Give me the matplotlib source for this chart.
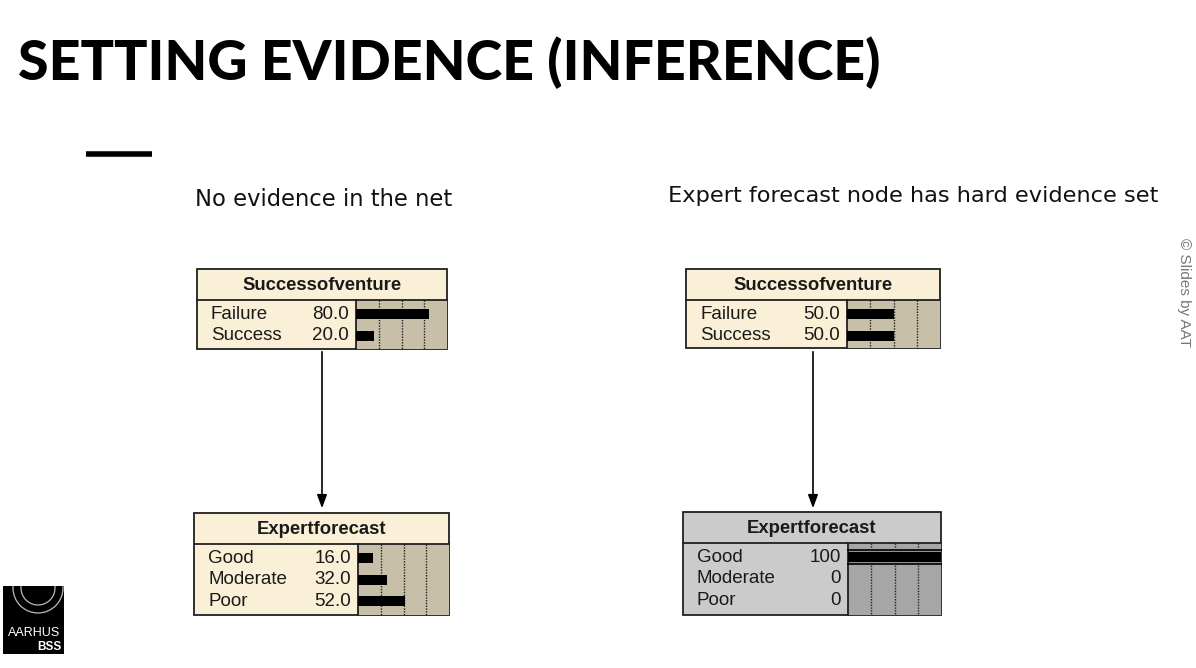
import matplotlib
matplotlib.use("Agg")
import matplotlib.pyplot as plt
from matplotlib.patches import Rectangle, Circle

# ---- data ----
title = "SETTING EVIDENCE (INFERENCE)"
subtitle_left = "No evidence in the net"
subtitle_right = "Expert forecast node has hard evidence set"
node_parent = "Successofventure"
node_child = "Expertforecast"
parent_states = ["Failure", "Success"]
child_states = ["Good", "Moderate", "Poor"]
left_parent_vals = [80.0, 20.0]
left_child_vals = [16.0, 32.0, 52.0]
right_parent_vals = [50.0, 50.0]
right_child_vals = [100, 0, 0]
right_child_labels = ["100", "0", "0"]

W, H = 1196, 668
fig = plt.figure(figsize=(W / 100, H / 100), dpi=100)
ax = fig.add_axes([0, 0, 1, 1])
ax.set_xlim(0, W)
ax.set_ylim(H, 0)
ax.axis("off")

FONT = ["Liberation Sans", "DejaVu Sans"]


def draw_node(x0, x1, y0, ytitle, y1, xbar, name, states, vals, labels=None,
              bg="#FAF0D7", barbg="#C8BFA9", evidence=False):
    ax.add_patch(Rectangle((x0, y0), x1 - x0, y1 - y0, facecolor=bg,
                           edgecolor="#202020", lw=1.3, zorder=2))
    ax.add_patch(Rectangle((xbar, ytitle), x1 - xbar, y1 - ytitle,
                           facecolor=barbg, edgecolor="none", zorder=3))
    ax.plot([x0, x1], [ytitle, ytitle], color="#202020", lw=1.3, zorder=5)
    ax.plot([xbar, xbar], [ytitle, y1], color="#202020", lw=1.3, zorder=5)
    ax.text((x0 + x1) / 2, (y0 + ytitle) / 2 + 1, name, ha="center", va="center",
            fontsize=13.3, fontweight="bold", family=FONT, color="#1a1a1a", zorder=6)
    bw = x1 - xbar
    for g in (0.25, 0.5, 0.75):
        ax.plot([xbar + g * bw] * 2, [ytitle, y1], color="#202020", lw=1.0,
                ls=(0, (1, 1)), zorder=4)
    row_h = 21.5
    ystart = ytitle + 3.5
    for i, (s, v) in enumerate(zip(states, vals)):
        yc = ystart + row_h * (i + 0.5)
        ax.text(x0 + 14, yc, s, ha="left", va="center", fontsize=13.5,
                family=FONT, color="#1a1a1a", zorder=6)
        lab = labels[i] if labels else f"{v:.1f}"
        ax.text(xbar - 7, yc, lab, ha="right", va="center", fontsize=13.5,
                family=FONT, color="#1a1a1a", zorder=6)
        if evidence and v >= 100:
            ax.add_patch(Rectangle((xbar, yc - 8), bw, 16, facecolor="#909090",
                                   edgecolor="none", zorder=4))
            ax.plot([xbar, x1], [yc - 7, yc - 7], color="black", lw=1.2, zorder=5)
            ax.plot([xbar, x1], [yc + 7, yc + 7], color="black", lw=1.2, zorder=5)
        ax.barh(yc, v / 100 * bw, height=10, left=xbar, color="black", zorder=5)


draw_node(197, 447, 269, 300, 349, 356, node_parent, parent_states, left_parent_vals)
draw_node(194, 449, 513, 544, 615, 358, node_child, child_states, left_child_vals)
draw_node(686, 940, 269, 300, 348, 847, node_parent, parent_states, right_parent_vals)
draw_node(683, 941, 512, 543, 615, 848, node_child, child_states, right_child_vals,
          labels=right_child_labels, bg="#CBCBCB", barbg="#A6A6A6", evidence=True)

# arrows
for xa in (322, 813):
    ax.annotate("", xy=(xa, 511), xytext=(xa, 349),
                arrowprops=dict(arrowstyle="-|>,head_length=0.8,head_width=0.3",
                                color="black", lw=1.2), zorder=6)

# title
ax.text(18, 63, title, ha="left", va="center", fontsize=40, fontweight="black",
        family=["Lato", "DejaVu Sans"], color="black")
ax.plot([86, 152], [154, 154], color="black", lw=4, solid_capstyle="butt")

ax.text(195, 200, subtitle_left, ha="left", va="center", fontsize=16.3,
        family=["DejaVu Sans"], color="#111111")
ax.text(668, 196, subtitle_right, ha="left", va="center", fontsize=16.2,
        family=["DejaVu Sans"], color="#111111")

# copyright
ax.text(1184, 292, "© Slides by AAT", ha="center", va="center", rotation=-90,
        fontsize=11, family=FONT, color="#777777")

# logo
sq = Rectangle((3, 586), 61, 68, facecolor="black", edgecolor="none")
ax.add_patch(sq)
for r in (25, 17):
    c = Circle((38, 588), r, facecolor="none", edgecolor="#bbbbbb", lw=0.9)
    ax.add_patch(c)
    c.set_clip_path(sq)
ax.text(34, 633, "AARHUS", ha="center", va="center", fontsize=9,
        family=FONT, color="white")
ax.text(61, 647, "BSS", ha="right", va="center", fontsize=8.5, fontweight="bold",
        family=FONT, color="white")

fig.savefig("out.png", dpi=100)
